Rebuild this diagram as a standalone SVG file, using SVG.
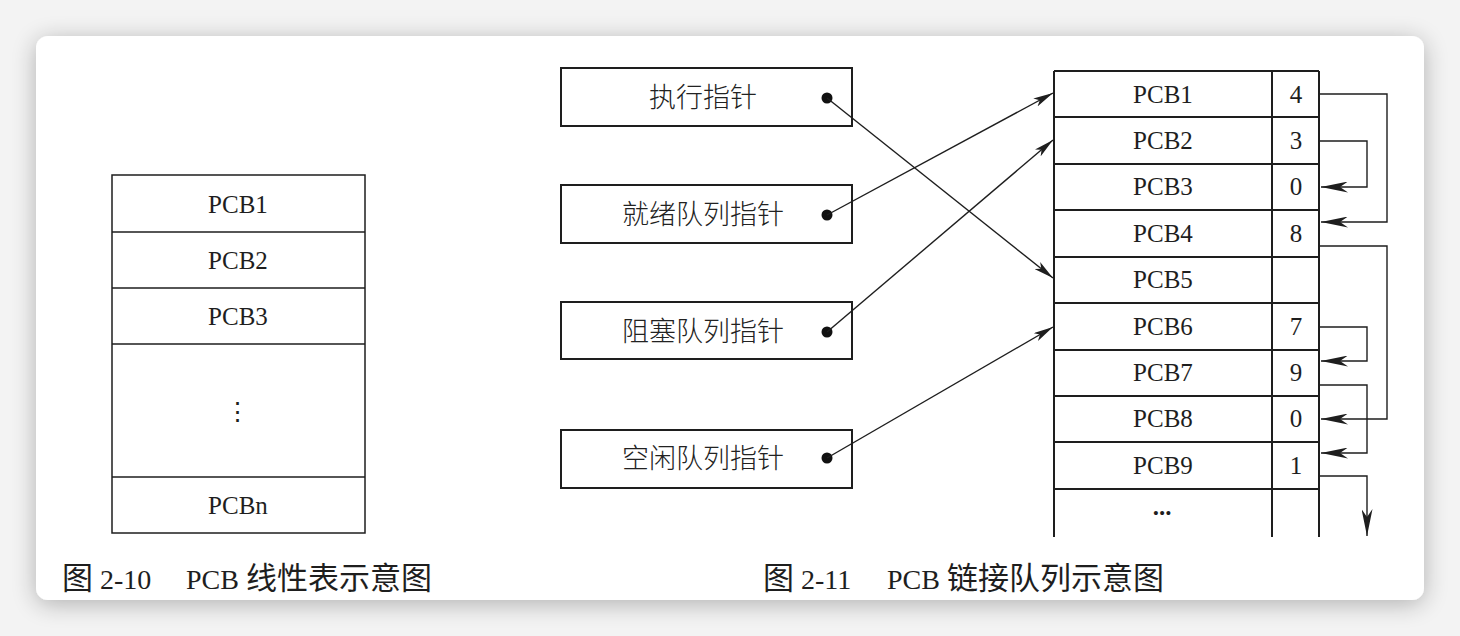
<svg xmlns="http://www.w3.org/2000/svg" width="1460" height="636" viewBox="0 0 1460 636">
<style>
.bg{fill:#f3f3f3}
.card{fill:#ffffff}
.tbl{fill:#ffffff;stroke:#1e1e1e;stroke-width:1.5}
.grid{stroke:#1e1e1e;stroke-width:2;fill:none}
.box{fill:#ffffff;stroke:#1e1e1e;stroke-width:2}
.lbl{font-family:"Liberation Serif","Noto Sans CJK SC",serif;font-size:25px;fill:#1e1e1e;text-anchor:middle}
.cn{font-family:"Noto Sans CJK SC","Liberation Sans",sans-serif;font-size:27px;font-weight:300;fill:#222;text-anchor:middle}
.cap{font-family:"Liberation Serif","Noto Sans CJK SC",serif;font-size:28px;fill:#1e1e1e}
.capcn{font-family:"Noto Sans CJK SC",sans-serif;font-size:31px;font-weight:400}
.ptr{stroke:#1e1e1e;stroke-width:1.4;fill:none;marker-end:url(#sm)}
.loop{stroke:#1e1e1e;stroke-width:1.4;fill:none;marker-end:url(#lg)}
.dot{fill:#111}
</style>
<defs>
<filter id="sh" x="-10%" y="-10%" width="120%" height="125%">
<feGaussianBlur in="SourceAlpha" stdDeviation="12"/>
<feOffset dy="4"/>
<feComponentTransfer><feFuncA type="linear" slope="0.28"/></feComponentTransfer>
<feMerge><feMergeNode/><feMergeNode in="SourceGraphic"/></feMerge>
</filter>
<marker id="sm" markerUnits="userSpaceOnUse" markerWidth="21" markerHeight="9" refX="20" refY="4.5" orient="auto">
<path d="M20,4.5 L0,0 L5,4.5 L0,9 Z" fill="#1e1e1e"/>
</marker>
<marker id="lg" markerUnits="userSpaceOnUse" markerWidth="28" markerHeight="11" refX="27" refY="5.5" orient="auto">
<path d="M27,5.5 L0,0 L8,5.5 L0,11 Z" fill="#1e1e1e"/>
</marker>
</defs>
<rect class="bg" x="0" y="0" width="1460" height="636"/>
<rect class="card" x="36" y="36" width="1388" height="564" rx="12" filter="url(#sh)"/>

<g id="linear-table">
<rect class="tbl" x="112" y="175" width="253" height="358"/>
<line class="tbl" x1="112" y1="232" x2="365" y2="232"/>
<line class="tbl" x1="112" y1="288" x2="365" y2="288"/>
<line class="tbl" x1="112" y1="344" x2="365" y2="344"/>
<line class="tbl" x1="112" y1="477" x2="365" y2="477"/>
<text class="lbl" x="238" y="213">PCB1</text>
<text class="lbl" x="238" y="269">PCB2</text>
<text class="lbl" x="238" y="325">PCB3</text>
<text class="lbl" x="237" y="420">⋮</text>
<text class="lbl" x="238" y="514">PCBn</text>
</g>

<g id="ptr-exec">
<rect class="box" x="561" y="68" width="291" height="58"/>
<text class="cn" x="703" y="107">执行指针</text>
<circle class="dot" cx="827" cy="98" r="5.5"/>
</g>
<g id="ptr-ready">
<rect class="box" x="561" y="185" width="291" height="58"/>
<text class="cn" x="703" y="224">就绪队列指针</text>
<circle class="dot" cx="827" cy="215" r="5.5"/>
</g>
<g id="ptr-block">
<rect class="box" x="561" y="302" width="291" height="57"/>
<text class="cn" x="703" y="341">阻塞队列指针</text>
<circle class="dot" cx="827" cy="332" r="5.5"/>
</g>
<g id="ptr-free">
<rect class="box" x="561" y="430" width="291" height="58"/>
<text class="cn" x="703" y="468">空闲队列指针</text>
<circle class="dot" cx="827" cy="458" r="5.5"/>
</g>

<g id="pcb-table">
<line class="grid" x1="1054" y1="71" x2="1054" y2="537"/>
<line class="grid" x1="1272" y1="71" x2="1272" y2="537"/>
<line class="grid" x1="1319" y1="71" x2="1319" y2="537"/>
<line class="grid" x1="1054" y1="71" x2="1319" y2="71"/>
<line class="grid" x1="1054" y1="117" x2="1319" y2="117"/>
<line class="grid" x1="1054" y1="164" x2="1319" y2="164"/>
<line class="grid" x1="1054" y1="210" x2="1319" y2="210"/>
<line class="grid" x1="1054" y1="257" x2="1319" y2="257"/>
<line class="grid" x1="1054" y1="303" x2="1319" y2="303"/>
<line class="grid" x1="1054" y1="350" x2="1319" y2="350"/>
<line class="grid" x1="1054" y1="396" x2="1319" y2="396"/>
<line class="grid" x1="1054" y1="442" x2="1319" y2="442"/>
<line class="grid" x1="1054" y1="489" x2="1319" y2="489"/>
<text class="lbl" x="1163" y="103">PCB1</text><text class="lbl" x="1296" y="103">4</text>
<text class="lbl" x="1163" y="149">PCB2</text><text class="lbl" x="1296" y="149">3</text>
<text class="lbl" x="1163" y="195">PCB3</text><text class="lbl" x="1296" y="195">0</text>
<text class="lbl" x="1163" y="242">PCB4</text><text class="lbl" x="1296" y="242">8</text>
<text class="lbl" x="1163" y="288">PCB5</text>
<text class="lbl" x="1163" y="335">PCB6</text><text class="lbl" x="1296" y="335">7</text>
<text class="lbl" x="1163" y="381">PCB7</text><text class="lbl" x="1296" y="381">9</text>
<text class="lbl" x="1163" y="427">PCB8</text><text class="lbl" x="1296" y="427">0</text>
<text class="lbl" x="1163" y="474">PCB9</text><text class="lbl" x="1296" y="474">1</text>
<text class="lbl" x="1162" y="515" font-weight="bold">...</text>
</g>

<g id="connectors">
<line class="ptr" x1="827" y1="98" x2="1053" y2="278"/>
<line class="ptr" x1="827" y1="215" x2="1053" y2="93"/>
<line class="ptr" x1="827" y1="332" x2="1053" y2="140"/>
<line class="ptr" x1="827" y1="458" x2="1053" y2="327"/>
<polyline class="loop" points="1320,94 1387,94 1387,222 1321,222"/>
<polyline class="loop" points="1320,141 1367,141 1367,187 1321,187"/>
<polyline class="loop" points="1320,246 1387,246 1387,419 1321,419"/>
<polyline class="loop" points="1320,327 1367,327 1367,361 1321,361"/>
<polyline class="loop" points="1320,385 1367,385 1367,453 1321,453"/>
<polyline class="loop" points="1320,476 1367,476 1367,536"/>
</g>

<g id="captions">
<text class="cap" x="62" y="589"><tspan class="capcn">图</tspan> 2-10</text>
<text class="cap" x="186" y="589">PCB <tspan class="capcn">线性表示意图</tspan></text>
<text class="cap" x="763" y="589"><tspan class="capcn">图</tspan> 2-11</text>
<text class="cap" x="887" y="589">PCB <tspan class="capcn">链接队列示意图</tspan></text>
</g>
</svg>
